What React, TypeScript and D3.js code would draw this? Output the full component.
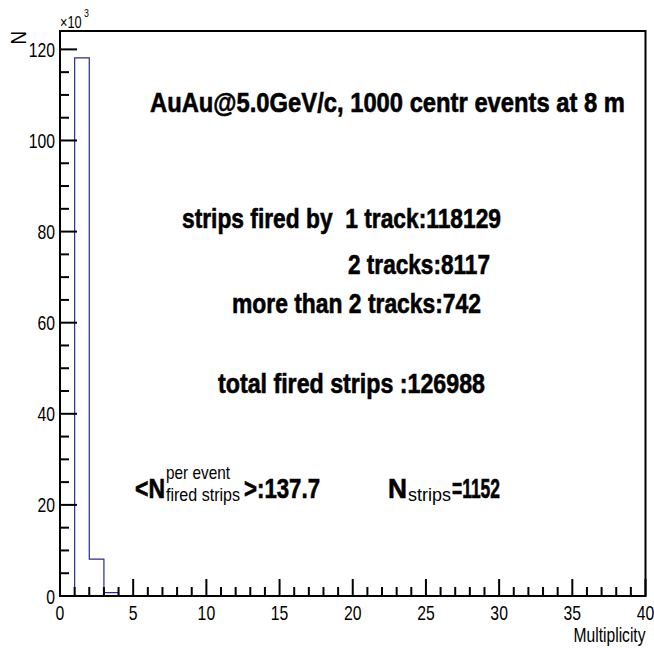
import React from "react";
import * as d3 from "d3";

// Histogram: multiplicity of tracks per fired strip (bin width 1, range 0..40)
const binLowEdges: number[] = [0, 1, 2, 3];
const binCounts: number[] = [0, 118129, 8117, 742];
const xMin = 0;
const xMax = 40;
const yMax = 124035; // 1.05 * maximum bin content

const xMajorTicks: number[] = [0, 5, 10, 15, 20, 25, 30, 35, 40];
const yMajorTicks: number[] = [0, 20000, 40000, 60000, 80000, 100000, 120000];
const yTickLabels: string[] = ["0", "20", "40", "60", "80", "100", "120"];

const titleText = "AuAu@5.0GeV/c, 1000 centr events at 8 m";
const oneTrackLabel = "strips fired by\u00a0\u00a01 track:118129";
const twoTrackLabel = "2 tracks:8117";
const moreTrackLabel = "more than 2 tracks:742";
const totalLabel = "total fired strips :126988";
const meanValue = "137.7";
const nStripsValue = "1152";

const W = 654;
const H = 648;
const left = 60;
const right = 645.5;
const top = 31;
const bottom = 596;

const FONT = "'Liberation Sans', Arial, Helvetica, sans-serif";

export default function App() {
  const x = d3.scaleLinear().domain([xMin, xMax]).range([left, right]);
  const y = d3.scaleLinear().domain([0, yMax]).range([bottom, top]);

  // Step outline of the histogram
  const p = d3.path();
  p.moveTo(x(binLowEdges[0]), y(0));
  binLowEdges.forEach((lo, i) => {
    p.lineTo(x(lo), y(binCounts[i]));
    p.lineTo(x(lo + 1), y(binCounts[i]));
  });
  p.lineTo(x(binLowEdges[binLowEdges.length - 1] + 1), y(0));
  p.lineTo(x(xMax), y(0));

  const xMinor = d3.range(xMin, xMax + 0.001, 1).filter((v) => v % 5 !== 0);
  const yMinor = d3.range(0, yMax, 5000).filter((v) => v % 20000 !== 0);

  const tickLabelStyle: React.CSSProperties = { fontFamily: FONT, fontSize: 21 };
  const big: React.CSSProperties = {
    fontFamily: FONT,
    fontSize: 28,
    fontWeight: "bold",
    stroke: "#000",
    strokeWidth: 0.6,
  };
  const small: React.CSSProperties = { fontFamily: FONT, fontSize: 19 };

  return (
    <svg
      width={W}
      height={H}
      viewBox={`0 0 ${W} ${H}`}
      style={{ position: "absolute", left: 0, top: 0, background: "#fff", display: "block" }}
    >
      <rect x={0} y={0} width={W} height={H} fill="#fff" />

      {/* histogram */}
      <path d={p.toString()} fill="none" stroke="#2b2b8f" strokeWidth={1.2} />

      {/* frame */}
      <rect x={left} y={top} width={right - left} height={bottom - top} fill="none" stroke="#000" strokeWidth={2} />

      {/* y axis ticks */}
      {yMajorTicks.map((v) => (
        <line key={"ym" + v} x1={left} x2={left + 17} y1={y(v)} y2={y(v)} stroke="#000" strokeWidth={2} />
      ))}
      {yMinor.map((v) => (
        <line key={"yn" + v} x1={left} x2={left + 9} y1={y(v)} y2={y(v)} stroke="#000" strokeWidth={2} />
      ))}
      {yMajorTicks.map((v, i) => (
        <text
          key={"yl" + v}
          transform={`translate(${left - 5},${y(v) + 7.5}) scale(0.75,1)`}
          textAnchor="end"
          style={tickLabelStyle}
        >
          {yTickLabels[i]}
        </text>
      ))}

      {/* x axis ticks */}
      {xMajorTicks.map((v) => (
        <line key={"xm" + v} x1={x(v)} x2={x(v)} y1={bottom} y2={bottom - 17} stroke="#000" strokeWidth={2} />
      ))}
      {xMinor.map((v) => (
        <line key={"xn" + v} x1={x(v)} x2={x(v)} y1={bottom} y2={bottom - 9} stroke="#000" strokeWidth={2} />
      ))}
      {xMajorTicks.map((v) => (
        <text
          key={"xl" + v}
          transform={`translate(${x(v)},${620}) scale(0.75,1)`}
          textAnchor="middle"
          style={tickLabelStyle}
        >
          {v}
        </text>
      ))}

      {/* axis titles */}
      <text transform={`translate(${right},642) scale(0.78,1)`} textAnchor="end" style={{ fontFamily: FONT, fontSize: 20 }}>
        Multiplicity
      </text>
      <text transform={`translate(26,31) rotate(-90) scale(0.85,1)`} textAnchor="end" style={{ fontFamily: FONT, fontSize: 22 }}>
        N
      </text>
      <text transform={`translate(60,28) scale(0.8,1)`} style={{ fontFamily: FONT, fontSize: 16 }}>
        ×10
      </text>
      <text transform={`translate(84,17) scale(0.8,1)`} style={{ fontFamily: FONT, fontSize: 11 }}>
        3
      </text>

      {/* annotations */}
      <text x={150} y={112} textLength={475} lengthAdjust="spacingAndGlyphs" style={big}>
        {titleText}
      </text>
      <text x={182} y={228} textLength={319} lengthAdjust="spacingAndGlyphs" style={big}>
        {oneTrackLabel}
      </text>
      <text x={348} y={274} textLength={142} lengthAdjust="spacingAndGlyphs" style={big}>
        {twoTrackLabel}
      </text>
      <text x={232} y={313} textLength={249} lengthAdjust="spacingAndGlyphs" style={big}>
        {moreTrackLabel}
      </text>
      <text x={218} y={393} textLength={267} lengthAdjust="spacingAndGlyphs" style={big}>
        {totalLabel}
      </text>

      <text x={135} y={498} textLength={30} lengthAdjust="spacingAndGlyphs" style={big}>
        {"<N"}
      </text>
      <text x={166} y={479} textLength={64} lengthAdjust="spacingAndGlyphs" style={small}>
        per event
      </text>
      <text x={166} y={501} textLength={74} lengthAdjust="spacingAndGlyphs" style={small}>
        fired strips
      </text>
      <text x={244} y={498} textLength={76} lengthAdjust="spacingAndGlyphs" style={big}>
        {">:" + meanValue}
      </text>

      <text x={388} y={498} textLength={19} lengthAdjust="spacingAndGlyphs" style={big}>
        N
      </text>
      <text x={408} y={501} textLength={43} lengthAdjust="spacingAndGlyphs" style={small}>
        strips
      </text>
      <text x={452} y={498} textLength={48} lengthAdjust="spacingAndGlyphs" style={big}>
        {"=" + nStripsValue}
      </text>
    </svg>
  );
}
